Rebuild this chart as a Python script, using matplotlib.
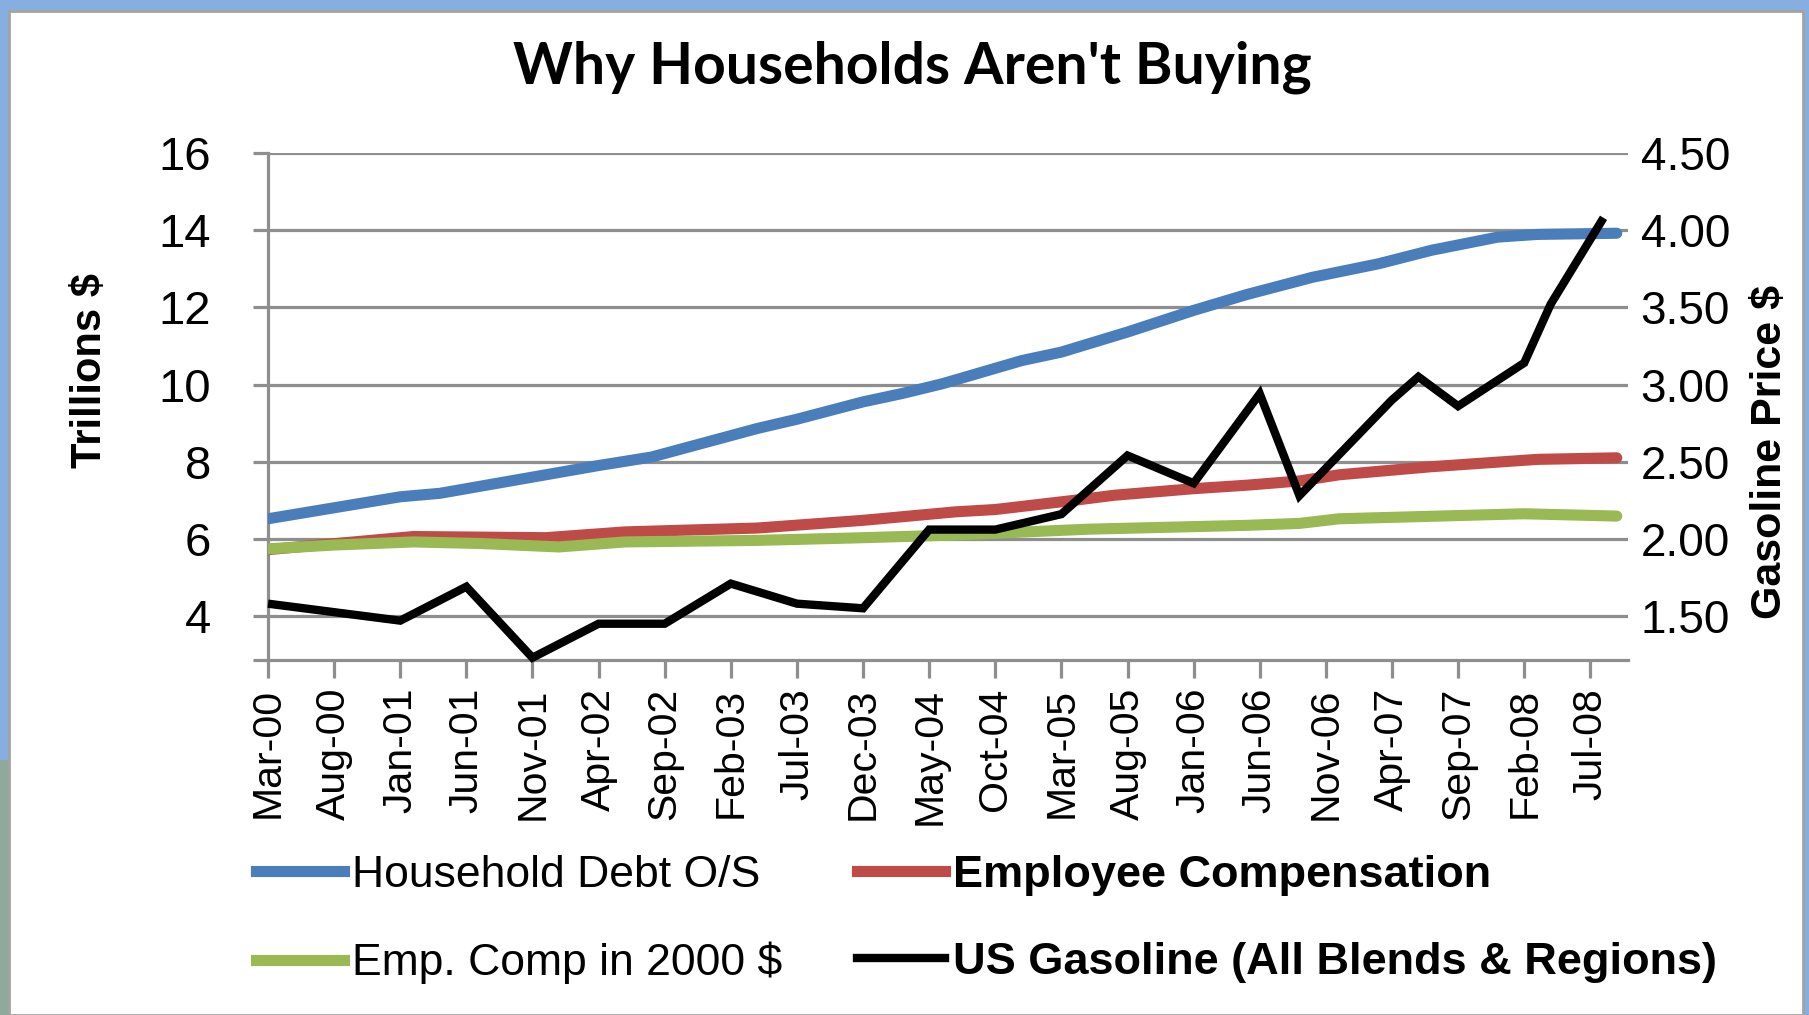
import matplotlib
matplotlib.use("Agg")
import matplotlib.pyplot as plt
from matplotlib.patches import Rectangle
from matplotlib.lines import Line2D

W, H, DPI = 1809, 1015, 100

# ---- data (months as YYYY-MM) ----
debt_dates = ["2000-03", "2001-01", "2001-04", "2002-04", "2002-08", "2003-04", "2003-07",
              "2003-12", "2004-03", "2004-06", "2004-12", "2005-03", "2005-08", "2006-01",
              "2006-05", "2006-10", "2007-03", "2007-07", "2007-12", "2008-03", "2008-09"]
debt = [6.52, 7.09, 7.18, 7.90, 8.12, 8.86, 9.10, 9.55, 9.77, 10.02, 10.62, 10.84, 11.36,
        11.92, 12.33, 12.78, 13.13, 13.48, 13.82, 13.89, 13.92]

comp_dates = ["2000-03", "2001-02", "2001-12", "2002-06", "2003-04", "2003-12", "2004-07",
              "2004-10", "2005-04", "2005-07", "2006-01", "2006-05", "2006-09", "2006-12",
              "2007-07", "2008-03", "2008-09"]
comp = [5.72, 6.06, 6.03, 6.18, 6.28, 6.48, 6.70, 6.76, 7.00, 7.13, 7.30, 7.39, 7.50, 7.66,
        7.87, 8.06, 8.10]

real_dates = ["2000-03", "2000-08", "2001-02", "2001-07", "2002-01", "2002-06", "2003-04",
              "2003-11", "2004-07", "2005-05", "2006-05", "2006-09", "2006-12", "2008-02",
              "2008-09"]
real = [5.74, 5.84, 5.92, 5.88, 5.79, 5.92, 5.96, 6.02, 6.10, 6.25, 6.35, 6.40, 6.52, 6.65,
        6.59]

gas_dates = ["2000-03", "2001-01", "2001-06", "2001-11", "2002-04", "2002-09", "2003-02",
             "2003-07", "2003-12", "2004-05", "2004-10", "2005-03", "2005-08", "2006-01",
             "2006-06", "2006-09", "2007-04", "2007-06", "2007-09", "2008-02", "2008-04",
             "2008-08"]
gas = [1.58, 1.47, 1.69, 1.23, 1.45, 1.45, 1.71, 1.58, 1.55, 2.06, 2.06, 2.16, 2.54, 2.36,
       2.94, 2.28, 2.90, 3.05, 2.86, 3.14, 3.52, 4.08]

tick_dates = ["2000-03", "2000-08", "2001-01", "2001-06", "2001-11", "2002-04", "2002-09",
              "2003-02", "2003-07", "2003-12", "2004-05", "2004-10", "2005-03", "2005-08",
              "2006-01", "2006-06", "2006-11", "2007-04", "2007-09", "2008-02", "2008-07"]
xlabels = ["Mar-00", "Aug-00", "Jan-01", "Jun-01", "Nov-01", "Apr-02", "Sep-02", "Feb-03",
           "Jul-03", "Dec-03", "May-04", "Oct-04", "Mar-05", "Aug-05", "Jan-06", "Jun-06",
           "Nov-06", "Apr-07", "Sep-07", "Feb-08", "Jul-08"]
left_ticks = [4, 6, 8, 10, 12, 14, 16]
right_ticks = [1.50, 2.00, 2.50, 3.00, 3.50, 4.00, 4.50]

BLUE, RED, GREEN = "#4a7ebb", "#be4b48", "#98b954"
GRID = "#8e8e8e"
SANS = ["Liberation Sans", "DejaVu Sans"]


def mo(s):
    # months since Mar-2000
    y, m = map(int, s.split("-"))
    return (y - 2000) * 12 + m - 3


def fx(x): return x / W
def fy(y): return 1 - y / H


fig = plt.figure(figsize=(W / DPI, H / DPI), dpi=DPI, facecolor="#86aee0")
fig.add_artist(Rectangle((0, 0), fx(9), fy(760), transform=fig.transFigure,
                         facecolor="#8fa99a", edgecolor="none", zorder=-10))
fig.add_artist(Rectangle((fx(9), 0), fx(1803) - fx(9), fy(11), transform=fig.transFigure,
                         facecolor="white", edgecolor="#a3a3a3", lw=2, zorder=-9))

ax = fig.add_axes([fx(268), fy(660), fx(1628) - fx(268), fy(153) - fy(660)])
ax.set_facecolor("none")
ax.set_xlim(0, 102.85)
ax.set_ylim(2.86, 16)
ax.set_yticks(left_ticks)
ax.set_yticks([2.86], minor=True)
ax.set_yticklabels([str(v) for v in left_ticks], fontsize=34, family=SANS)
ax.set_xticks([mo(d) for d in tick_dates])
ax.set_xticklabels(xlabels, rotation=90, fontsize=29.5, family=SANS)
ax.grid(axis="y", color=GRID, lw=2.3)
ax.set_axisbelow(True)
for s in ("top", "right"):
    ax.spines[s].set_visible(False)
for s in ("left", "bottom"):
    ax.spines[s].set_color(GRID)
    ax.spines[s].set_linewidth(2.3)
ax.tick_params(axis="y", which="both", length=11, width=2.3, color=GRID, pad=30)
ax.tick_params(axis="x", length=13, width=2.3, color=GRID, pad=7)

ax.plot([mo(d) for d in debt_dates], debt, color=BLUE, lw=8,
        solid_capstyle="round", solid_joinstyle="round", zorder=3)
ax.plot([mo(d) for d in comp_dates], comp, color=RED, lw=8,
        solid_capstyle="round", solid_joinstyle="round", zorder=3)
ax.plot([mo(d) for d in real_dates], real, color=GREEN, lw=8,
        solid_capstyle="round", solid_joinstyle="round", zorder=4)

ax2 = ax.twinx()
ax2.set_ylim(1.215, 4.5)
ax2.set_yticks(right_ticks)
ax2.set_yticklabels([f"{v:.2f}" for v in right_ticks], fontsize=33, family=SANS)
for s in ax2.spines.values():
    s.set_visible(False)
ax2.tick_params(axis="y", length=0, pad=9)
ax2.plot([mo(d) for d in gas_dates], gas, color="black", lw=6, clip_on=False,
         solid_joinstyle="miter", solid_capstyle="butt")

fig.text(fx(912), fy(83), "Why Households Aren't Buying", ha="center", va="baseline",
         fontsize=41, fontweight="bold", family=["Lato", "DejaVu Sans"])
fig.text(fx(90), fy(370), "Trillions $", rotation=90, ha="center", va="center",
         fontsize=30, fontweight="bold", family=SANS)
fig.text(fx(1770), fy(452), "Gasoline Price $", rotation=90, ha="center", va="center",
         fontsize=31, fontweight="bold", family=SANS)

handles = [Line2D([], [], color=BLUE, lw=8), Line2D([], [], color=GREEN, lw=8),
           Line2D([], [], color=RED, lw=8), Line2D([], [], color="black", lw=6)]
labels = ["Household Debt O/S", "Emp. Comp in 2000 $", "Employee Compensation",
          "US Gasoline (All Blends & Regions)"]
leg = fig.legend(handles, labels, ncol=2, loc="upper left",
                 bbox_to_anchor=(fx(256), fy(855)), frameon=False, borderpad=0,
                 borderaxespad=0, prop={"family": SANS, "size": 32}, handlelength=1.98,
                 handletextpad=0.18, columnspacing=1.69, labelspacing=1.03)
for t in leg.get_texts()[2:]:
    t.set_fontweight("bold")
    t.set_fontsize(32.5)

fig.savefig("out.png", dpi=DPI)
